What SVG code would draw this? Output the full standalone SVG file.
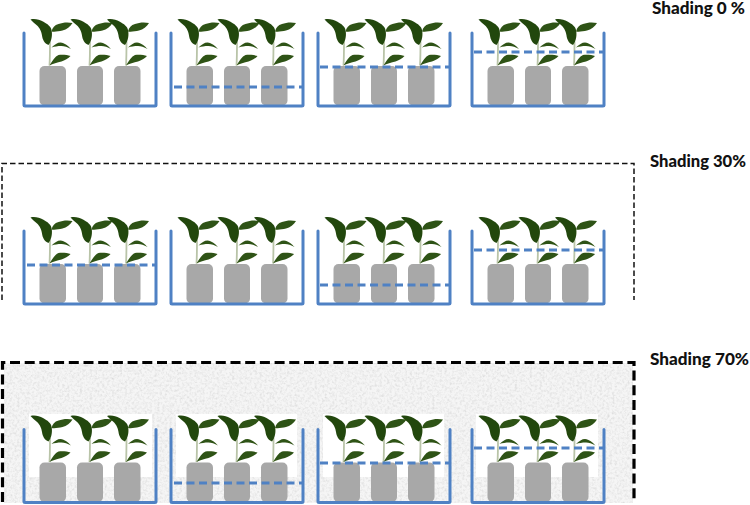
<svg xmlns="http://www.w3.org/2000/svg" width="750" height="505" viewBox="0 0 750 505">
<style>
.tank{fill:none;stroke:#4f81c4;stroke-width:3;stroke-linejoin:round;stroke-linecap:round}
.water{fill:none;stroke:#4f81c4;stroke-width:3;stroke-dasharray:8 4.500}
.pot{fill:#a8a8a8}
.lf{fill:#2f5214}
.lf2{fill:#24470f}
.st{stroke:#b9c4a8;stroke-width:1.800;fill:none}
.lbl{font-family:"Lato","Open Sans","Liberation Sans",sans-serif;font-weight:900;font-size:16px;fill:#111}
</style>
<defs>
<filter id="grain" x="0" y="0" width="100%" height="100%">
<feTurbulence type="fractalNoise" baseFrequency="0.4" numOctaves="3" seed="7"/>
<feColorMatrix type="matrix" values="0 0 0 0 0.7  0 0 0 0 0.7  0 0 0 0 0.7  1.2 1.2 0 0 -1.05"/>
</filter>
<filter id="soft" x="-10%" y="-10%" width="120%" height="120%"><feGaussianBlur stdDeviation="0.4"/></filter>
<g id="plant">
<path class="st" d="M0,0C0.500,-8 0.500,-16 0.500,-24"/>
<g filter="url(#soft)">
<path class="lf2" d="M-19,-46C-15,-47 -10,-46 -6.500,-44C-2,-41.500 1.500,-39 2,-35.500C3,-31 2.500,-25 -1,-20.500C-5,-22 -7,-26 -7.500,-30C-8,-33 -9,-37 -13,-40.500C-15,-42 -17,-44 -19,-46Z"/>
<path class="lf" d="M2,-34C3,-38 5,-40.500 9,-41.500C13,-43 18,-43.500 23,-42.500C21,-39 17,-36 13,-35C9,-34 5,-33.500 2,-34Z"/>
<path class="lf" d="M2,-18C5,-21 8,-23 11,-23C15,-22.500 19,-19.500 21.500,-16.500C18,-18.500 15,-19.500 12,-19.500C8,-19.500 5,-19 2,-18Z"/>
<path class="lf" d="M0,0C3,-5 5.500,-9 9,-10.500C13,-11 18,-10.500 21,-9.500C19,-7 15,-5 12,-4C8,-3 3,-2 0,0Z"/>
</g>
</g>
<g id="set">
<use href="#plant" x="25.500" y="32.500"/>
<use href="#plant" x="65.500" y="32.500"/>
<use href="#plant" x="102" y="32.500"/>
<rect class="pot" x="15.500" y="33" width="26.500" height="39.500" rx="5"/>
<rect class="pot" x="53" y="33" width="26" height="39.500" rx="5"/>
<rect class="pot" x="90" y="33" width="26.500" height="39.500" rx="5"/>
<path class="tank" d="M0,0V72.500Q0,73 1,73H131Q132,73 132,72.500V0"/>
</g>
</defs>

<g id="shade-70-area">
<rect x="4" y="363" width="629" height="140" fill="#f5f5f5"/>
<rect x="4" y="363" width="629" height="140" filter="url(#grain)"/>
<rect x="29" y="414" width="123" height="63" fill="#fff"/>
<rect x="176" y="414" width="121" height="63" fill="#fff"/>
<rect x="323" y="414" width="121" height="63" fill="#fff"/>
<rect x="476" y="414" width="122" height="63" fill="#fff"/>
</g>

<g id="frames">
<path d="M2,300V163.500H634V300" fill="none" stroke="#111" stroke-width="1.500" stroke-dasharray="5.500 3"/>
<path d="M2.500,502V362.500H634V502" fill="none" stroke="#000" stroke-width="3.200" stroke-dasharray="10 4.700"/>
</g>

<g id="row-0">
<use id="t01" href="#set" x="24" y="33"/>
<use id="t02" href="#set" x="171" y="33"/>
<use id="t03" href="#set" x="318" y="33"/>
<use id="t04" href="#set" x="472" y="33"/>
</g>
<g id="row-30">
<use id="t11" href="#set" x="24" y="231"/>
<use id="t12" href="#set" x="171" y="231"/>
<use id="t13" href="#set" x="318" y="231"/>
<use id="t14" href="#set" x="472" y="231"/>
</g>
<g id="row-70">
<use id="t21" href="#set" x="24" y="429.500"/>
<use id="t22" href="#set" x="171" y="429.500"/>
<use id="t23" href="#set" x="318" y="429.500"/>
<use id="t24" href="#set" x="472" y="429.500"/>
</g>
<g id="connectors">
<path class="water" d="M174,87H302"/>
<path class="water" d="M320,67H449"/>
<path class="water" d="M474,52H603"/>
<path class="water" d="M27,265H155"/>
<path class="water" d="M320,285H449"/>
<path class="water" d="M474,250H603"/>
<path class="water" d="M174,483H302"/>
<path class="water" d="M320,463H449"/>
<path class="water" d="M474,448H603"/>
</g>

<g id="labels">
<text class="lbl" x="652" y="14" textLength="93" lengthAdjust="spacingAndGlyphs">Shading 0 %</text>
<text class="lbl" x="650" y="167" textLength="96" lengthAdjust="spacingAndGlyphs">Shading 30%</text>
<text class="lbl" x="650" y="365" textLength="99" lengthAdjust="spacingAndGlyphs">Shading 70%</text>
</g>
</svg>
